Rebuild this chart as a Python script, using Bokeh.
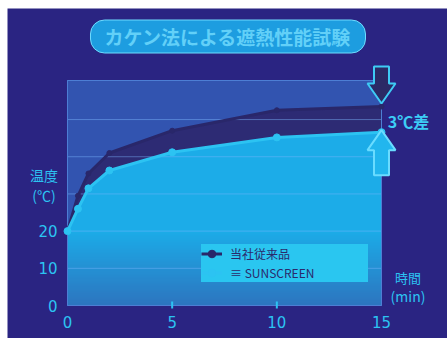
import numpy as np
from bokeh.plotting import figure
from bokeh.models import Range1d, Label, Legend, LegendItem
from bokeh.core.properties import value
from bokeh.embed import file_html
from bokeh.resources import INLINE

# ---- data ----
times = [0, 0.5, 1, 2, 5, 10, 15]
conventional = [20, 29.5, 35.5, 41, 47, 52.5, 53.5]
sunscreen = [20, 26, 31.5, 36.3, 41.2, 45.2, 46.6]
x_ticks = [0, 5, 10, 15]
x_tick_labels = ["0", "5", "10", "15"]
x_minor = [5, 10]
y_ticks = [0, 10, 20]
y_tick_labels = ["0", "10", "20"]
grid_levels = [10, 20, 30, 40, 50]
y_top = 60.5
series_names = ["当社従来品", "≡ SUNSCREEN"]
title_text = "カケン法による遮熱性能試験"

CYAN = "#2cc3f2"
NAVY = "#29276a"
JP = "Noto Sans CJK JP"

# frame covers the whole figure; page px -> data: x = (px-67)/XS, y = (305-py)/YS
XS = 314 / 15.0
YS = 225 / y_top
p = figure(width=440, height=330,
           x_range=Range1d((7 - 67) / XS, 15 + (447 - 381) / XS),
           y_range=Range1d(-(338 - 305) / YS, (305 - 8) / YS),
           output_backend="svg", toolbar_location=None,
           x_axis_location=None, y_axis_location=None, min_border=0)
p.margin = (8, 0, 0, 7)
p.background_fill_color = "#2a2482"
p.border_fill_color = "#2a2482"
p.outline_line_color = None
p.xgrid.visible = False
p.ygrid.visible = False

x0, x1 = times[0], times[-1]
# plot area
p.quad(left=x0, right=x1, bottom=0, top=y_top, fill_color="#3254b0", line_color="#4d7ed4", line_width=1)

# light area with gradient toward the bottom
p.varea(x=times, y1=0, y2=sunscreen, fill_color="#1cace8")
n = 64
img = np.zeros((n, 2), dtype=np.uint32)
view = img.view(dtype=np.uint8).reshape((n, 2, 4))
top = np.array([0x1c, 0xac, 0xe8], dtype=float)
bot = np.array([0x2d, 0x76, 0xc0], dtype=float)
for i in range(n):
    f = i / (n - 1)
    c = bot * (1 - f) + top * f
    view[i, :, 0] = int(c[0]); view[i, :, 1] = int(c[1]); view[i, :, 2] = int(c[2]); view[i, :, 3] = 255
p.image_rgba(image=[img], x=x0, y=0, dw=x1 - x0, dh=sunscreen[0])

# dark band
p.varea(x=times, y1=sunscreen, y2=conventional, fill_color="#2d2b74")

# grid lines
p.segment(x0=[x0] * len(grid_levels), x1=[x1] * len(grid_levels), y0=grid_levels, y1=grid_levels,
          line_color="#7fb8ff", line_alpha=0.45, line_width=1)
# outline of plot area on top
p.quad(left=x0, right=x1, bottom=0, top=y_top, fill_color=None, line_color="#4d7ed4", line_width=1)

dl = p.line(times, conventional, line_color=NAVY, line_width=3)
ds = p.scatter(times, conventional, size=5, color=NAVY)
ll = p.line(times, sunscreen, line_color=CYAN, line_width=3)
ls = p.scatter(times, sunscreen, size=7, color=CYAN)

# tick marks and tick labels
p.segment(x0=x_minor, x1=x_minor, y0=[-3 / YS] * len(x_minor), y1=[4 / YS] * len(x_minor),
          line_color=CYAN, line_width=2)
p.text(x=x_ticks, y=[-16.7 / YS] * len(x_ticks), text=x_tick_labels, text_font=value("DejaVu Sans"),
       text_font_size="15px", text_color=CYAN, text_align="center", text_baseline="middle")
p.text(x=[-10 / XS] * len(y_ticks), y=y_ticks, text=y_tick_labels, text_font=value("DejaVu Sans"),
       text_font_size="15px", text_color=CYAN, text_align="right", text_baseline="middle")

legend = Legend(items=[LegendItem(label=series_names[0], renderers=[dl, ds]),
                       LegendItem(label=series_names[1], renderers=[ll, ls])],
                location=(194, 56), background_fill_color="#2ac6f0", background_fill_alpha=1,
                border_line_color=None, label_text_font=JP, label_text_font_size="12px",
                label_text_color="#2b2a6c", glyph_width=21, glyph_height=19, label_height=19,
                label_width=138, label_standoff=8, spacing=0, padding=12, margin=0)
p.add_layout(legend)

def lab(text, px, py, size, bold=False, color=CYAN):
    p.add_layout(Label(x=(px - 67) / XS, y=(305 - py) / YS, text=text, text_font=JP,
                       text_font_size=f"{size}px", text_color=color, text_align="center",
                       text_baseline="middle", text_font_style="bold" if bold else "normal"))

lab("温度", 43.5, 174, 14)
lab("(℃)", 43.5, 194, 14)
lab("時間", 407.5, 276.5, 13)
lab("(min)", 407.5, 295, 14)
lab("3℃差", 408, 120.5, 16, bold=True, color="#3ccdf6")

p.add_layout(Label(x=(227.5 - 67) / XS, y=(305 - 36) / YS, text=title_text, text_font=JP,
                   text_font_size="19px", text_font_style="bold", text_color="#62d0f8",
                   text_align="center", text_baseline="middle", background_fill_color="#1d9de0",
                   border_line_color="#6fdcff", border_line_width=1,
                   padding=dict(left=14, right=14, top=3, bottom=3), border_radius=14))

# arrows pointing at the end values
xe = times[-1]
hw, sw, hl = 14 / XS, 7.5 / XS, 20 / YS
yd = conventional[-1] + 3 / YS
p.patch(x=[xe, xe + hw, xe + sw, xe + sw, xe - sw, xe - sw, xe - hw],
        y=[yd, yd + hl, yd + hl, yd + 37 / YS, yd + 37 / YS, yd + hl, yd + hl],
        fill_color="#2b2a66", line_color="#3ecbf5", line_width=2)
yu = sunscreen[-1] + 2 / YS
p.patch(x=[xe, xe + hw, xe + sw, xe + sw, xe - sw, xe - sw, xe - hw],
        y=[yu, yu - hl, yu - hl, yu - 45 / YS, yu - 45 / YS, yu - hl, yu - hl],
        fill_color="#22b6ee", line_color="#6adcff", line_width=2)

open("out.html", "w").write(file_html(p, INLINE))
